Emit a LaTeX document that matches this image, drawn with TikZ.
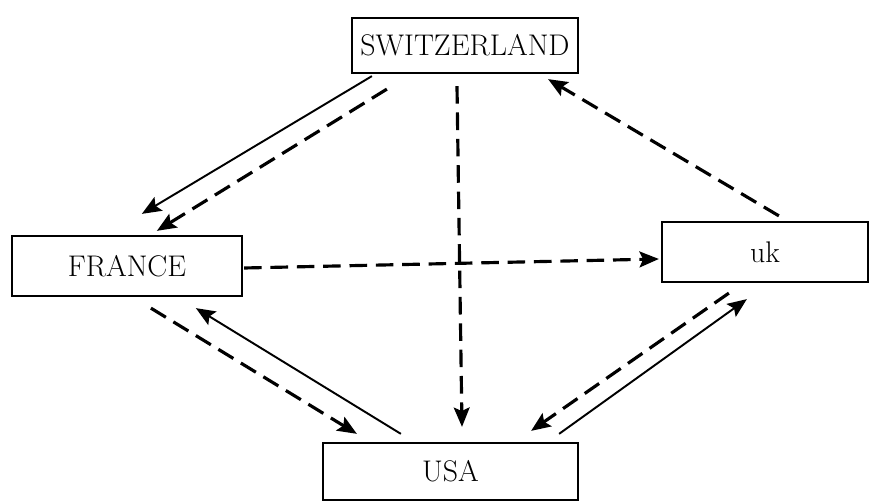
\documentclass[tikz,border=0pt]{standalone}
\usetikzlibrary{arrows.meta,calc}

\begin{document}
\begin{tikzpicture}[x=0.02cm,y=-0.02cm]

\tikzset{
  country node/.style={
    draw,
    line width=1.3pt,
    inner sep=0pt,
    font=\fontsize{17}{20}\selectfont,
  },
  flow/.style={
    line width=1.1pt,
    -{Stealth[length=11pt,width=9pt,inset=2pt]},
  },
  dashed flow/.style={
    flow,
    line width=1.8pt,
    dash pattern=on 10pt off 5pt,
  }
}

\useasboundingbox (0,0) rectangle (877,502);

% Countries
\node[country node, minimum width=4.52cm, minimum height=1.10cm] (sw)  at (465,45.5)  {SWITZERLAND};
\node[country node, minimum width=4.60cm, minimum height=1.20cm] (fr)  at (127,266)   {FRANCE};
\node[country node, minimum width=4.12cm, minimum height=1.20cm] (uk)  at (765,252)   {uk};
\node[country node, minimum width=5.10cm, minimum height=1.14cm] (usa) at (450.5,471.5) {USA};

% Switzerland -> France
\draw[flow]        ($(sw.south west)+(21,2)$)  -- ($(fr.north west)+(131,-21)$);
\draw[dashed flow] ($(sw.south west)+(36,15)$) -- ($(fr.north west)+(146,-4)$);

% Switzerland -> USA
\draw[dashed flow] ($(sw.south)+(-8,12)$) -- ($(usa.north)+(11.5,-15)$);

% uk -> Switzerland
\draw[dashed flow] ($(uk.north west)+(118,-5)$) -- ($(sw.south east)+(-31,5)$);

% France -> uk
\draw[dashed flow] ($(fr.east)+(1,2)$) -- ($(uk.west)+(-2,7)$);

% France <-> USA
\draw[dashed flow] ($(fr.south west)+(140,11)$) -- ($(usa.north west)+(35,-8)$);
\draw[flow]        ($(usa.north west)+(79,-8)$) -- ($(fr.south west)+(185,11)$);

% uk <-> USA
\draw[dashed flow] ($(uk.south west)+(68,10)$)  -- ($(usa.north east)+(-48,-11)$);
\draw[flow]        ($(usa.north east)+(-20,-8)$) -- ($(uk.south west)+(86,16)$);

\end{tikzpicture}
\end{document}
